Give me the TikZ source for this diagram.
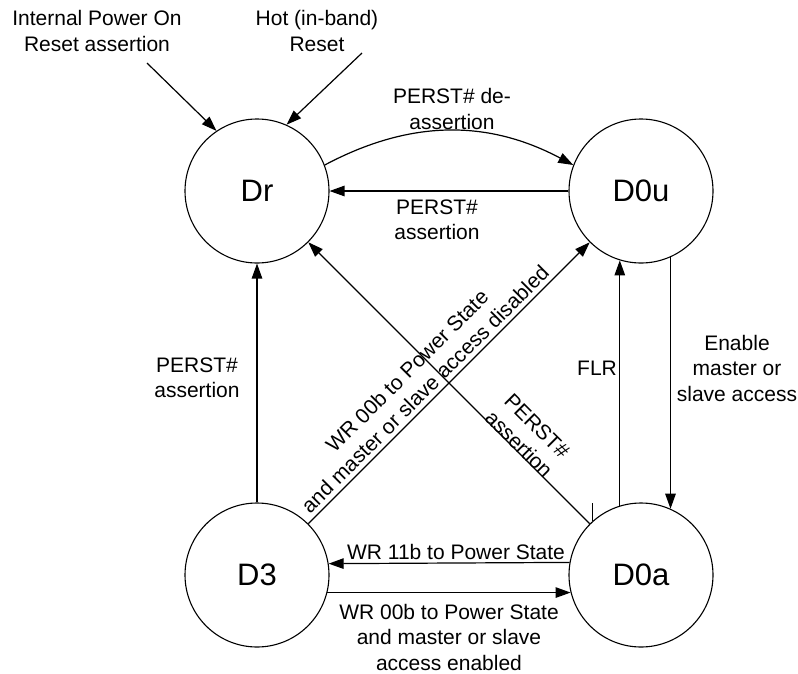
\documentclass[tikz,border=0pt]{standalone}
\usepackage{fontspec}
\setmainfont{Liberation Sans}
\usetikzlibrary{arrows.meta}
\begin{document}
\begin{tikzpicture}[x=1pt,y=-1pt,
  state/.style={circle,draw,line width=1.1pt,minimum size=144pt,inner sep=0pt,font=\fontsize{31}{36}\selectfont},
  lbl/.style={align=center,font=\fontsize{21}{25.5}\selectfont,inner sep=0pt},
  arr/.style={line width=1.2pt,-{Triangle[length=15pt,width=10.5pt]}},
  ln/.style={line width=1.1pt}]
\useasboundingbox (0,0) rectangle (798,673);
% states
\node[state] (dr)  at (257,191) {Dr};
\node[state] (d0u) at (641,191) {D0u};
\node[state] (d3)  at (257,575) {D3};
\node[state] (d0a) at (641,575) {D0a};
% reset inputs
\coordinate (ipo) at (147,63);
\coordinate (hot) at (362,53);
\node[lbl] (tipo) at (97,31) {Internal Power On\\Reset assertion};
\node[lbl] (thot) at (317,31) {Hot (in-band)\\Reset};
\draw[arr] (ipo) -- (dr.124);
\draw[arr] (hot) -- (dr.66);
% Dr <-> D0u
\draw[arr] (dr.21) to[out=28,in=152] (d0u.159);
\node[lbl] (tdeas) at (452,109) {PERST\# de-\\assertion};
\draw[arr] (d0u.west) -- (dr.east);
\node[lbl] (tas1) at (437,220) {PERST\#\\assertion};
% D3 -> Dr
\draw[arr] (d3) -- (dr);
\node[lbl] (tas2) at (197,378) {PERST\#\\assertion};
% diagonals
\draw[arr] (d3) -- (d0u);
\node[lbl,rotate=45] (tdis) at (416,380) {WR 00b to Power State\\and master or slave access disabled};
\draw[arr] (d0a) -- (dr);
\node[lbl,rotate=-45] (tas3) at (528,435) {PERST\#\\assertion};
% D0a <-> D0u
\draw[arr] (d0a.107) -- (d0u.253);
\node[lbl] (tflr) at (597,368) {FLR};
\draw[arr] (d0u.-66) -- (d0a.66);
\node[lbl] (ten) at (737,368) {Enable\\master or\\slave access};
% D0a <-> D3
\draw[arr] (d0a.170.4) -- (d3.9.6);
\node[lbl] (t11) at (456,552) {WR 11b to Power State};
\draw[arr] (d3.-14.5) -- (d0a.194.5);
\node[lbl] (t00) at (449,637) {WR 00b to Power State\\and master or slave\\access enabled};
% small tick
\coordinate (tk1) at (592,503);
\coordinate (tk2) at (592,521);
\draw[line width=0.8pt] (tk1) -- (tk2);
\end{tikzpicture}
\end{document}
